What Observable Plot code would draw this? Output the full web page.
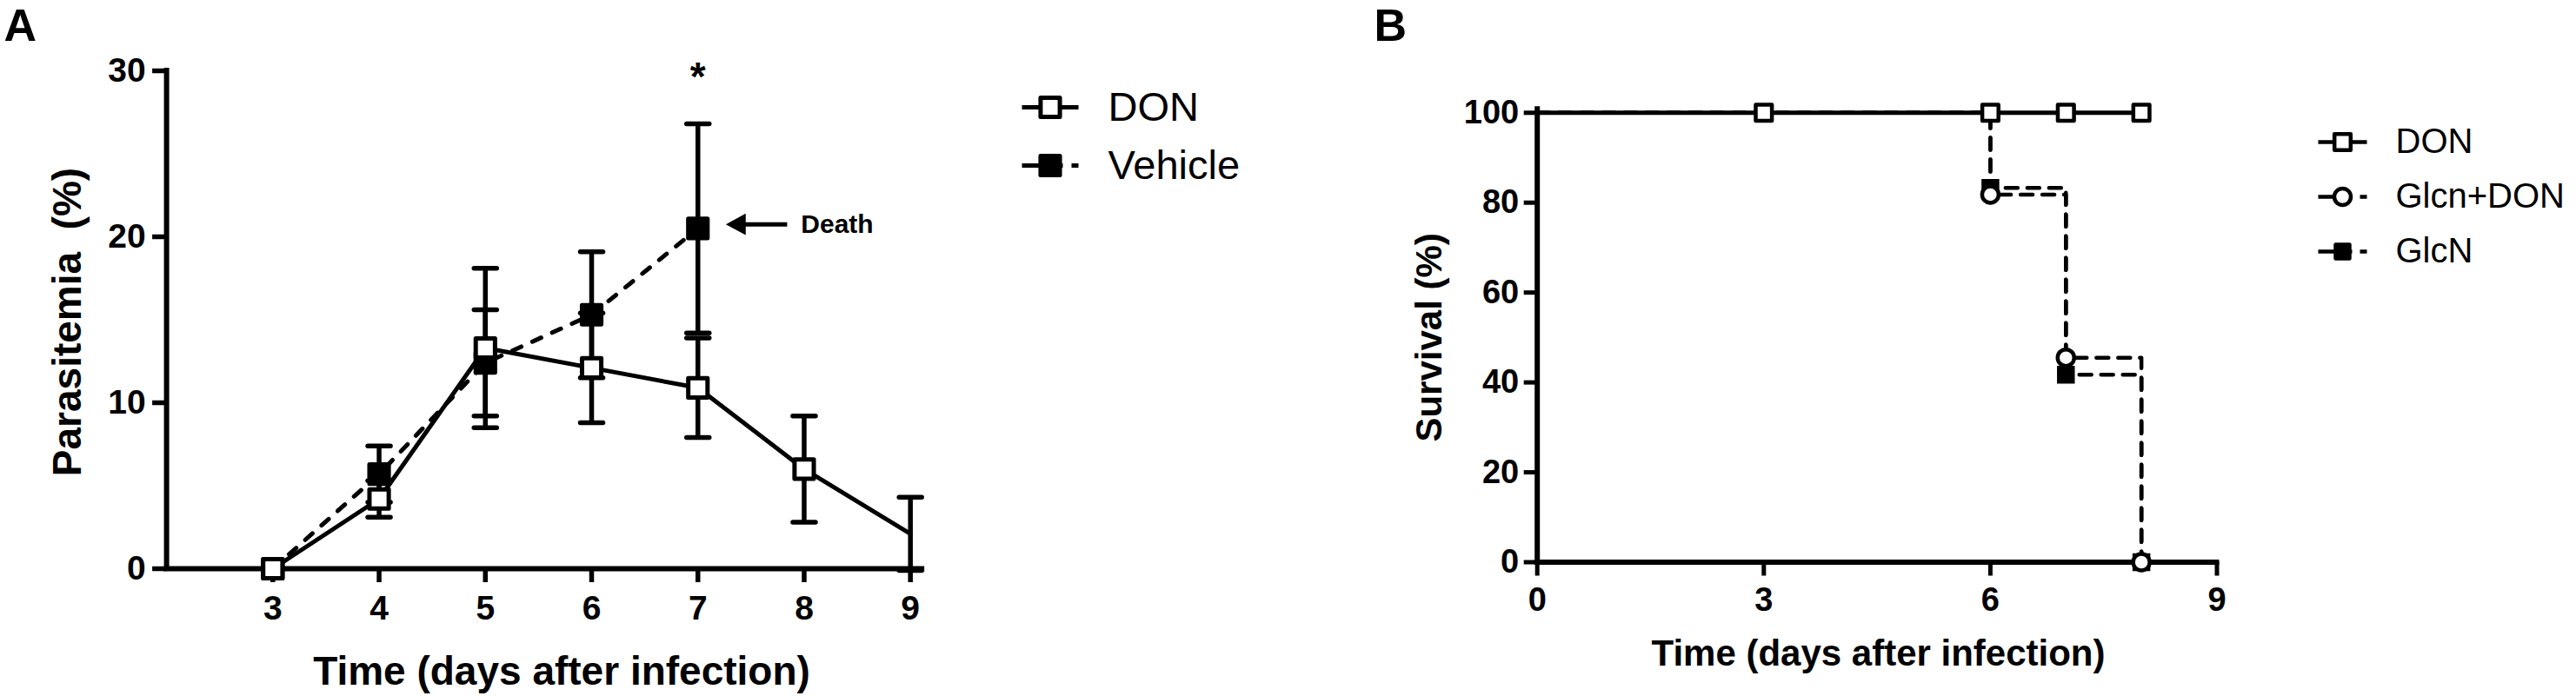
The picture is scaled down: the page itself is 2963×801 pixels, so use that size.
<!DOCTYPE html>
<html>
<head>
<meta charset="utf-8">
<script src="https://cdn.jsdelivr.net/npm/d3@7"></script>
<script src="https://cdn.jsdelivr.net/npm/@observablehq/plot@0.6"></script>
<style>
  html, body { margin: 0; padding: 0; background: #fff; }
  #wrap { position: relative; width: 2963px; height: 801px; overflow: hidden; background: #fff; }
  #wrap svg { position: absolute; }
</style>
</head>
<body>
<div id="wrap"></div>
<script>
// ---------- Panel A data (parasitemia, mean ± SEM) ----------
const daysA = [3, 4, 5, 6, 7, 8, 9];
const donMeanA = [0, 4.2, 13.3, 12.1, 10.9, 6.0, 2.1];
const donSemA = [0, 1.1, 4.8, 3.3, 3.0, 3.2, 2.2];
const vehDaysA = [3, 4, 5, 6, 7];
const vehMeanA = [0, 5.7, 12.4, 15.3, 20.5];
const vehSemA = [0, 1.7, 3.2, 3.8, 6.3];
const xTicksA = [3, 4, 5, 6, 7, 8, 9];
const yTicksA = [0, 10, 20, 30];
const xDomainA = [2, 9];
const yDomainA = [0, 30];
const seriesA = ["DON", "Vehicle"];
const starA = [{day: 7, value: 28.8, label: "*"}];
const deathA = [{label: "Death", textDay: 7.97, value: 20.75, arrowFrom: 7.84, arrowTo: 7.38}];

// ---------- Panel B data (survival, %) ----------
const seriesB = ["DON", "Glcn+DON", "GlcN"];
const donDaysB = [0, 3, 6, 7, 8];
const donSurvB = [100, 100, 100, 100, 100];
const glcnDonDaysB = [0, 6, 7, 8];
const glcnDonSurvB = [100, 81.8, 45.5, 0];
const glcnDaysB = [0, 6, 7, 8];
const glcnSurvB = [100, 83.3, 41.7, 0];
const xTicksB = [0, 3, 6, 9];
const yTicksB = [0, 20, 40, 60, 80, 100];
const xDomainB = [0, 9];
const yDomainB = [0, 100];

// ---------- helpers ----------
const FONT = "'Liberation Sans', Arial, Helvetica, sans-serif";
const wrap = document.getElementById("wrap");
function place(svg, left, top) { svg.style.left = left + "px"; svg.style.top = top + "px"; wrap.appendChild(svg); }

const capSym = {draw(ctx, size) { const w = Math.sqrt(size / Math.PI); ctx.moveTo(-w, 0); ctx.lineTo(w, 0); }};
const triLeft = {draw(ctx, size) { const r = Math.sqrt(size / Math.PI); ctx.moveTo(-1.5 * r, 0); ctx.lineTo(0.9 * r, -1.3 * r); ctx.lineTo(0.9 * r, 1.3 * r); ctx.closePath(); }};

const donA = daysA.map((d, i) => ({day: d, mean: donMeanA[i], sem: donSemA[i]}));
const vehA = vehDaysA.map((d, i) => ({day: d, mean: vehMeanA[i], sem: vehSemA[i]}));

function errMarks(data) {
  const e = data.filter(d => d.sem > 0);
  const cap = {symbol: capSym, r: 13, stroke: "#000", strokeWidth: 5.5, fill: "none", strokeLinecap: "round"};
  return [
    Plot.ruleX(e, {x: "day", y1: d => d.mean - d.sem, y2: d => d.mean + d.sem, stroke: "#000", strokeWidth: 5.5}),
    Plot.dot(e, {x: "day", y: d => d.mean + d.sem, ...cap}),
    Plot.dot(e, {x: "day", y: d => d.mean - d.sem, ...cap})
  ];
}

// ---------- Panel A ----------
const WA = 1100, HA = 801;
const plotA = Plot.plot({
  width: WA, height: HA,
  marginLeft: 191.1, marginRight: WA - 1046.7, marginTop: 81, marginBottom: HA - 654,
  x: {domain: xDomainA}, y: {domain: yDomainA},
  style: {fontFamily: FONT, fontWeight: "bold", background: "transparent", color: "#000", overflow: "visible"},
  marks: [
    Plot.axisY(yTicksA, {tickSize: 16, tickPadding: 8, fontSize: 39, strokeWidth: 5.5, label: null, tickFormat: d => String(d)}),
    Plot.axisX(xTicksA, {tickSize: 16, tickPadding: 15, fontSize: 39, strokeWidth: 5.5, label: null, tickFormat: d => String(d)}),
    Plot.ruleX([xDomainA[0]], {y1: yDomainA[0], y2: yDomainA[1], stroke: "#000", strokeWidth: 6, strokeLinecap: "square"}),
    Plot.ruleY([yDomainA[0]], {x1: xDomainA[0], x2: xDomainA[1] + 0.11, stroke: "#000", strokeWidth: 6, strokeLinecap: "square"}),
    ...errMarks(vehA),
    ...errMarks(donA),
    Plot.line(vehA, {x: "day", y: "mean", stroke: "#000", strokeWidth: 5, strokeDasharray: "11,14", strokeLinecap: "round"}),
    Plot.line(donA, {x: "day", y: "mean", stroke: "#000", strokeWidth: 5}),
    Plot.dot(vehA, {x: "day", y: "mean", symbol: "square", r: 12.5, fill: "#000", stroke: "#000", strokeWidth: 5, strokeLinejoin: "round"}),
    Plot.dot(donA.filter(d => d.day < xDomainA[1]), {x: "day", y: "mean", symbol: "square", r: 12.5, fill: "#fff", stroke: "#000", strokeWidth: 5, strokeLinejoin: "round"}),
    Plot.text(starA, {x: "day", y: "value", text: "label", lineAnchor: "bottom", fontSize: 46}),
    Plot.link(deathA, {x1: "arrowFrom", x2: "arrowTo", y1: "value", y2: "value", stroke: "#000", strokeWidth: 5}),
    Plot.dot(deathA, {x: "arrowTo", y: "value", symbol: triLeft, r: 9.5, fill: "#000", stroke: "none"}),
    Plot.text(deathA, {x: "textDay", y: "value", text: "label", textAnchor: "start", lineAnchor: "middle", fontSize: 30}),
    Plot.text(["Parasitemia\u00a0 (%)"], {frameAnchor: "left", rotate: -90, textAnchor: "middle", lineAnchor: "top", fontSize: 46, dx: -131, dy: 2.5}),
    Plot.text(["Time (days after infection)"], {frameAnchor: "bottom", textAnchor: "middle", lineAnchor: "bottom", fontSize: 46, dx: 26.6, dy: 133}),
    Plot.text(["A"], {frameAnchor: "top-left", textAnchor: "start", lineAnchor: "top", fontSize: 52, dx: -187, dy: -71})
  ]
});
place(plotA, 0, 0);

// ---------- Panel B ----------
const WB = 1100, HB = 801, LB = 1560;
const donB = donDaysB.map((d, i) => ({day: d, surv: donSurvB[i]}));
const glcnDonB = glcnDonDaysB.map((d, i) => ({day: d, surv: glcnDonSurvB[i]}));
const glcnB = glcnDaysB.map((d, i) => ({day: d, surv: glcnSurvB[i]}));
const dashB = "14,11";
const plotB = Plot.plot({
  width: WB, height: HB,
  marginLeft: 1767.7 - LB, marginRight: LB + WB - 2549.5, marginTop: 129.3, marginBottom: HB - 646.5,
  x: {domain: xDomainB}, y: {domain: yDomainB},
  style: {fontFamily: FONT, fontWeight: "bold", background: "transparent", color: "#000", overflow: "visible"},
  marks: [
    Plot.axisY(yTicksB, {tickSize: 15, tickPadding: 6, fontSize: 38, strokeWidth: 5, label: null, tickFormat: d => String(d)}),
    Plot.axisX(xTicksB, {tickSize: 16, tickPadding: 13, fontSize: 38, strokeWidth: 5, label: null, tickFormat: d => String(d)}),
    Plot.ruleX([xDomainB[0]], {y1: yDomainB[0], y2: yDomainB[1] + 0.8, stroke: "#000", strokeWidth: 6, strokeLinecap: "square"}),
    Plot.ruleY([yDomainB[0]], {x1: xDomainB[0], x2: xDomainB[1], stroke: "#000", strokeWidth: 6, strokeLinecap: "square"}),
    Plot.line(glcnB, {x: "day", y: "surv", curve: "step-after", stroke: "#000", strokeWidth: 4.5, strokeDasharray: dashB}),
    Plot.line(glcnDonB, {x: "day", y: "surv", curve: "step-after", stroke: "#000", strokeWidth: 4.5, strokeDasharray: dashB}),
    Plot.line(donB, {x: "day", y: "surv", curve: "step-after", stroke: "#000", strokeWidth: 5}),
    Plot.dot(glcnB.filter(d => d.day > 0), {x: "day", y: "surv", symbol: "square", r: 9, fill: "#000", stroke: "#000", strokeWidth: 4.5}),
    Plot.dot(glcnDonB.filter(d => d.day > 0), {x: "day", y: "surv", symbol: "circle", r: 9.5, fill: "#fff", stroke: "#000", strokeWidth: 4.5}),
    Plot.dot(donB.filter(d => d.day > 0), {x: "day", y: "surv", symbol: "square", r: 10.5, fill: "#fff", stroke: "#000", strokeWidth: 4.5, strokeLinejoin: "round"}),
    Plot.text(["Survival (%)"], {frameAnchor: "left", rotate: -90, textAnchor: "middle", lineAnchor: "top", fontSize: 42, dx: -139.7}),
    Plot.text(["Time (days after infection)"], {frameAnchor: "bottom", textAnchor: "middle", lineAnchor: "bottom", fontSize: 42, dx: 1.4, dy: 118.5}),
    Plot.text(["B"], {frameAnchor: "top-left", textAnchor: "start", lineAnchor: "top", fontSize: 52, dx: 1580 - 1767.7, dy: 10 - 129.3})
  ]
});
place(plotB, LB, 0);

// ---------- Legends ----------
function legend(items, o) {
  const marks = [];
  for (const it of items) {
    marks.push(Plot.link([it], {x1: o.x1, x2: o.x2, y1: "name", y2: "name", stroke: "#000", strokeWidth: o.sw, strokeDasharray: it.dash || null}));
    marks.push(Plot.dot([it], {x: o.xm, y: "name", symbol: it.symbol, r: it.r, fill: it.fill, stroke: "#000", strokeWidth: o.sw, strokeLinejoin: "round"}));
    marks.push(Plot.text([it], {x: o.xt, y: "name", text: "name", textAnchor: "start", lineAnchor: "middle", fontSize: o.fontSize}));
  }
  return Plot.plot({
    width: o.width, height: o.height, margin: 0,
    x: {type: "identity", axis: null},
    y: {type: "point", domain: items.map(d => d.name), range: o.rows, padding: 0, axis: null},
    style: {fontFamily: FONT, fontWeight: "normal", background: "transparent", color: "#000", overflow: "visible"},
    marks
  });
}
const legA = legend([
  {name: seriesA[0], symbol: "square", r: 12.5, fill: "#fff"},
  {name: seriesA[1], symbol: "square", r: 12.5, fill: "#000", dash: "47,10,8"}
], {width: 450, height: 200, rows: [62.7, 130.7], x1: 25, x2: 90, xm: 57.5, xt: 124, fontSize: 47, sw: 5});
place(legA, 1150, 60);

const legB = legend([
  {name: seriesB[0], symbol: "square", r: 10.5, fill: "#fff"},
  {name: seriesB[1], symbol: "circle", r: 9.5, fill: "#fff", dash: "39,9,8"},
  {name: seriesB[2], symbol: "square", r: 9, fill: "#000", dash: "39,9,8"}
], {width: 323, height: 240, rows: [62.5, 188.7], x1: 26, x2: 82, xm: 54, xt: 115, fontSize: 40, sw: 4.5});
place(legB, 2640, 100);
</script>
</body>
</html>
